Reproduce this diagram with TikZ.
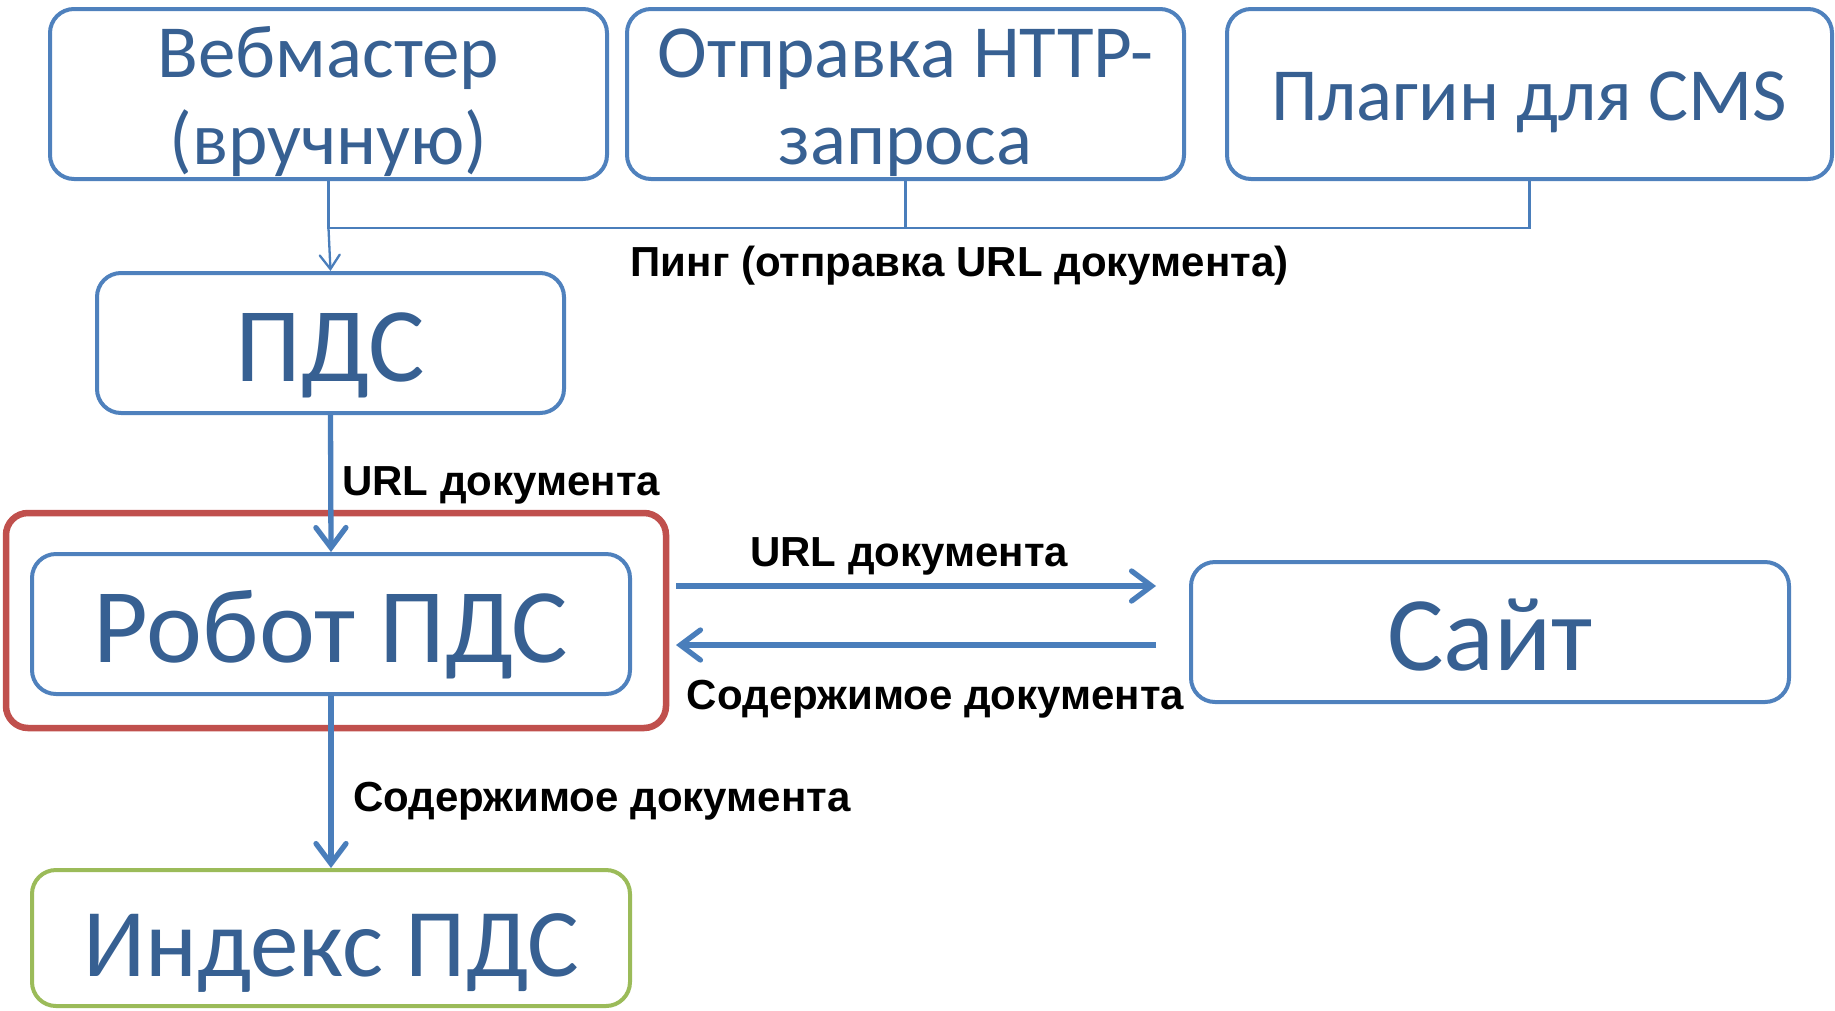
\documentclass[tikz,border=0pt]{standalone}
\usepackage{fontspec}
\setmainfont{Carlito}
\newfontfamily\labfont{Liberation Sans}
\usetikzlibrary{arrows.meta}
\definecolor{bord}{HTML}{4F81BD}
\definecolor{txt}{HTML}{376092}
\definecolor{arr}{HTML}{4A7EBB}
\definecolor{redb}{HTML}{C0504D}
\definecolor{greenb}{HTML}{9BBB59}
\tikzset{
  box/.style={draw=bord, line width=4pt, rounded corners=24pt, text=txt, align=center, inner sep=0pt},
  twoline/.style={font=\fontsize{75}{87}\selectfont, text height=140pt, text depth=0pt},
  oneline/.style={font=\fontsize{75}{87}\selectfont, text height=53pt, text depth=0pt},
  hugetext/.style={font=\fontsize{106}{116}\selectfont, text height=76pt, text depth=0pt},
  busline/.style={draw=arr, line width=2.3pt},
  thinarrow/.style={busline, -{Straight Barb[length=14pt, width=20pt, line cap=round]}},
  thickarrow/.style={draw=arr, line width=5.3pt, -{Straight Barb[length=20pt, width=30pt, line cap=round]}},
  lab/.style={font=\labfont\bfseries\fontsize{42}{46}\selectfont, text=black, inner sep=0pt}
}
\begin{document}
\begin{tikzpicture}[x=1pt,y=-1pt]
\useasboundingbox (0,0) rectangle (1835,1010);
\clip (0,0) rectangle (1835,1010);
% top row
\node[box, twoline, minimum width=557pt, minimum height=170pt] (web) at (328.5,94) {Вебмастер\\(вручную)};
\node[box, twoline, minimum width=557pt, minimum height=170pt] (http) at (905.5,94) {Отправка HTTP-\\запроса};
\node[box, oneline, minimum width=605pt, minimum height=170pt] (cms) at (1529.5,94) {Плагин для CMS};
% main chain
\node[box, hugetext, minimum width=467pt, minimum height=140pt] (pds) at (330.5,343) {ПДС};
\node[draw=redb, line width=6.5pt, rounded corners=22pt, minimum width=660pt, minimum height=215pt, inner sep=0pt] (red) at (336,620.5) {};
\node[box, hugetext, minimum width=598pt, minimum height=140pt] (robot) at (331,624) {Робот ПДС};
\node[box, hugetext, font=\fontsize{97}{107}\selectfont, draw=greenb, minimum width=598pt, minimum height=136pt] (index) at (331,938) {Индекс ПДС};
\node[box, hugetext, minimum width=598pt, minimum height=140pt] (site) at (1490,632) {Сайт};
% bus
\path (web.south) ++(0,47) coordinate (b1);
\draw[busline] (web.south) -- (b1) -| (cms.south);
\draw[busline] (http.south) -- (http.south |- b1);
\draw[thinarrow] (b1) -- (pds.north);
% vertical arrows
\draw[thickarrow] (pds.south) -- (robot.north);
\draw[thickarrow] (robot.south) -- (index.north);
% horizontal arrows
\coordinate (r1) at (676,586);
\coordinate (s1) at (1156,586);
\coordinate (r2) at (676,645);
\coordinate (s2) at (1156,645);
\draw[thickarrow] (r1) -- (s1);
\draw[thickarrow] (s2) -- (r2);
% labels
\node[lab, anchor=base] (lping) at (959.5,276) {Пинг (отправка URL документа)};
\node[lab, anchor=base west] (lurl1) at (342,495) {URL документа};
\node[lab, anchor=base] (lurl2) at (909,566) {URL документа};
\node[lab, anchor=base] (lsod1) at (935.5,709) {Содержимое документа};
\node[lab, anchor=base west] (lsod2) at (353,811) {Содержимое документа};
\end{tikzpicture}
\end{document}
